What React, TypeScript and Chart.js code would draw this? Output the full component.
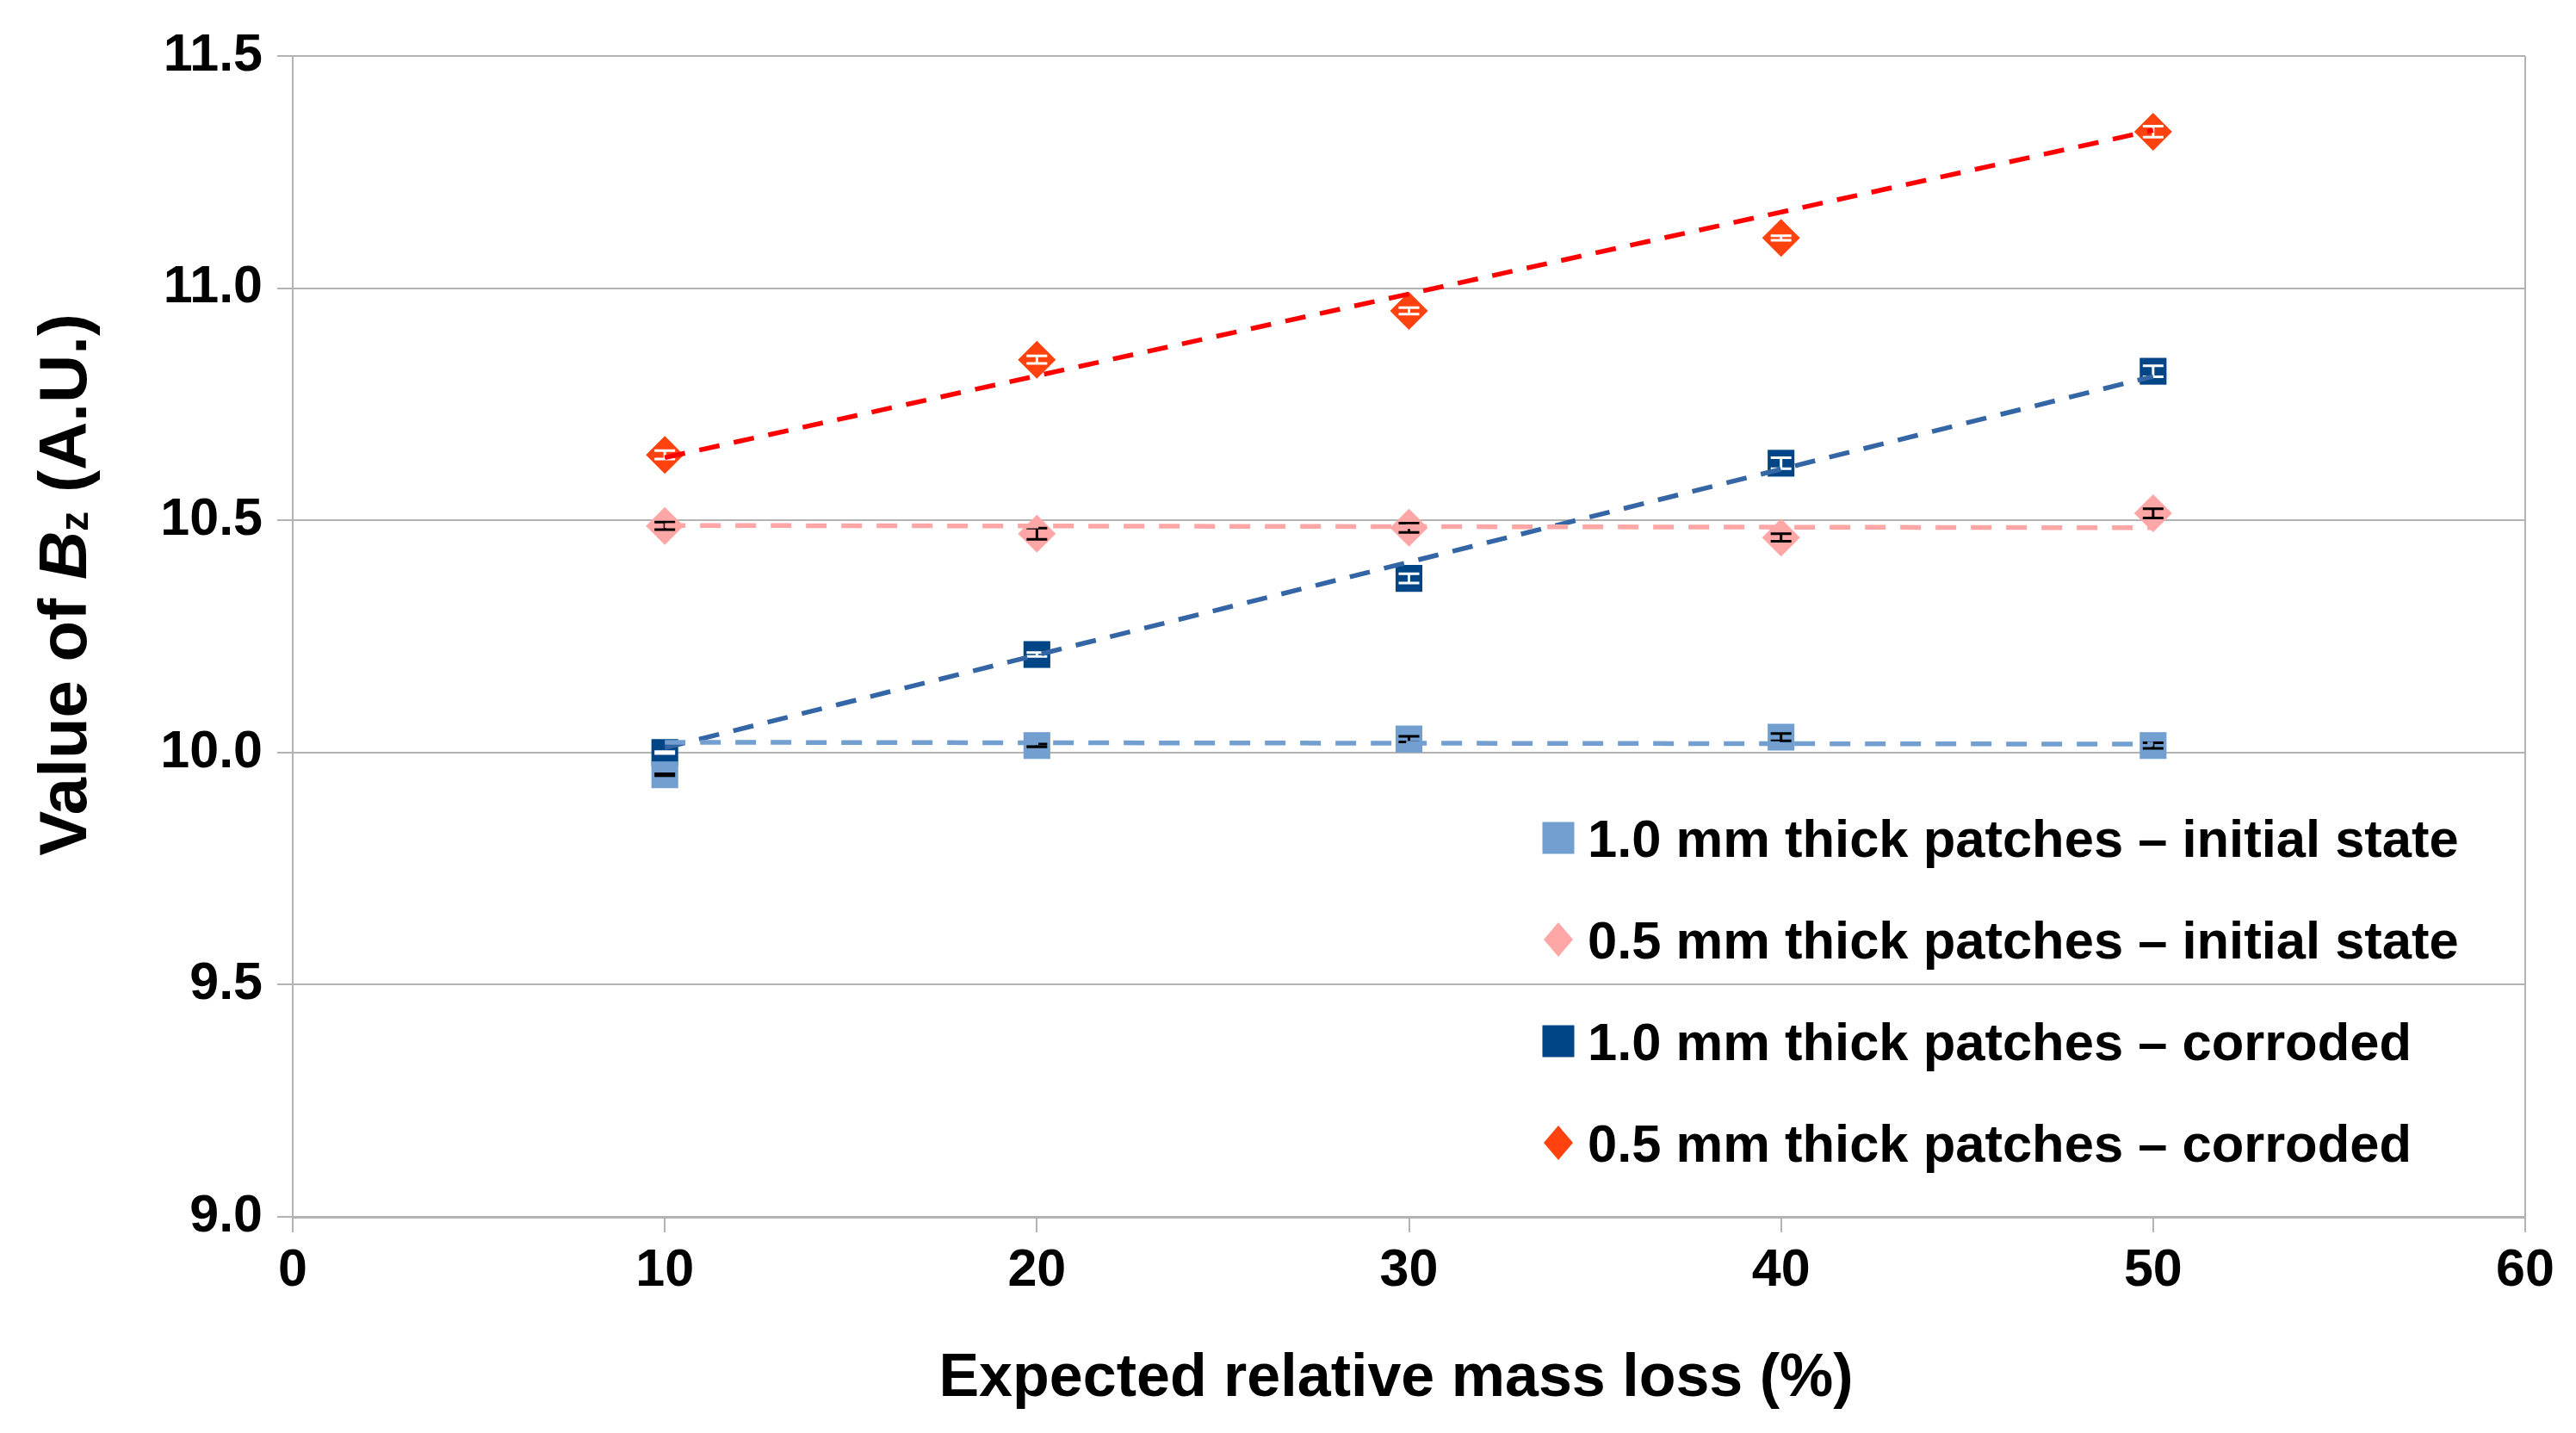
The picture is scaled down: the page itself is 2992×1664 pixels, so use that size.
import React, { useEffect, useRef } from 'react';
import { Chart, registerables } from 'chart.js';

Chart.register(...registerables);

// ---- data ----
const xValues = [10, 20, 30, 40, 50];
const seriesLabels = [
  '1.0 mm thick patches – initial state',
  '0.5 mm thick patches – initial state',
  '1.0 mm thick patches – corroded',
  '0.5 mm thick patches – corroded',
];
const thick10Initial = [9.952, 10.015, 10.029, 10.033, 10.015];
const thick05Initial = [10.488, 10.471, 10.484, 10.463, 10.515];
const thick10Corroded = [10.0, 10.211, 10.375, 10.623, 10.821];
const thick05Corroded = [10.641, 10.846, 10.951, 11.108, 11.337];

const err10Initial = [0.002, 0.003, 0.006, 0.008, 0.006];
const err05Initial = [0.008, 0.012, 0.01, 0.008, 0.01];
const err10Corroded = [0.002, 0.004, 0.01, 0.012, 0.012];
const err05Corroded = [0.009, 0.008, 0.007, 0.005, 0.012];

const trendX = [10, 50];
const trend10Initial = [10.022, 10.018];
const trend05Initial = [10.489, 10.484];
const trend10Corroded = [10.01, 10.81];
const trend05Corroded = [10.635, 11.34];

const xTicks = [0, 10, 20, 30, 40, 50, 60];
const yTicks = [9.0, 9.5, 10.0, 10.5, 11.0, 11.5];

const markerColors = ['#729fcf', '#ffa6a6', '#004586', '#ff420e'];
const trendColors = ['#729fcf', '#ffa6a6', '#3465a4', '#ff0000'];
const errColors = ['#000000', '#000000', '#ffffff', '#ffffff'];
const markerStyles = ['rect', 'rectRot', 'rect', 'rectRot'];

const FONT = '"Liberation Sans", Arial, sans-serif';
const GRID = '#b3b3b3';

const seriesValues = [thick10Initial, thick05Initial, thick10Corroded, thick05Corroded];
const seriesErrors = [err10Initial, err05Initial, err10Corroded, err05Corroded];
const trendValues = [trend10Initial, trend05Initial, trend10Corroded, trend05Corroded];

const errorBarPlugin = {
  id: 'errorBars',
  afterDatasetDraw(chart: any, args: any) {
    const i = args.index;
    if (i > 3) return;
    const ctx = chart.ctx;
    const xs = chart.scales.x;
    const ys = chart.scales.y;
    ctx.save();
    ctx.strokeStyle = errColors[i];
    ctx.lineWidth = 3;
    const vals = seriesValues[i];
    const errs = seriesErrors[i];
    const half = 12;
    for (let k = 0; k < xValues.length; k++) {
      const px = xs.getPixelForValue(xValues[k]);
      const top = ys.getPixelForValue(vals[k] + errs[k]);
      const bot = ys.getPixelForValue(vals[k] - errs[k]);
      ctx.beginPath();
      ctx.moveTo(px, top);
      ctx.lineTo(px, bot);
      ctx.moveTo(px - half, top);
      ctx.lineTo(px + half, top);
      ctx.moveTo(px - half, bot);
      ctx.lineTo(px + half, bot);
      ctx.stroke();
    }
    ctx.restore();
  },
};

const decorPlugin = {
  id: 'decor',
  afterDraw(chart: any) {
    const ctx = chart.ctx;
    const area = chart.chartArea;
    ctx.save();
    // x-axis title
    ctx.fillStyle = '#000';
    ctx.font = `bold 70px ${FONT}`;
    ctx.textAlign = 'center';
    ctx.textBaseline = 'alphabetic';
    ctx.fillText('Expected relative mass loss (%)', (area.left + area.right) / 2 - 15, 1621);

    // y-axis title (rotated, with italic B and subscript z)
    const parts = [
      { t: 'Value of ', f: `bold 78px ${FONT}`, dy: 0 },
      { t: 'B', f: `italic bold 78px ${FONT}`, dy: 0 },
      { t: 'z', f: `bold 46px ${FONT}`, dy: 2 },
      { t: ' (A.U.)', f: `bold 78px ${FONT}`, dy: 0 },
    ];
    let total = 0;
    const widths = parts.map((p) => {
      ctx.font = p.f;
      const w = ctx.measureText(p.t).width;
      total += w;
      return w;
    });
    ctx.translate(100, 679);
    ctx.rotate(-Math.PI / 2);
    ctx.textAlign = 'left';
    let cx = -total / 2;
    parts.forEach((p, idx) => {
      ctx.font = p.f;
      ctx.fillText(p.t, cx, p.dy);
      cx += widths[idx];
    });
    ctx.restore();

    // legend
    ctx.save();
    const rowY = [973, 1091, 1209, 1327];
    const mx = 1810;
    const tx = 1844;
    ctx.font = `bold 61.5px ${FONT}`;
    ctx.textAlign = 'left';
    ctx.textBaseline = 'alphabetic';
    for (let i = 0; i < 4; i++) {
      const y = rowY[i];
      ctx.fillStyle = markerColors[i];
      if (markerStyles[i] === 'rect') {
        ctx.fillRect(mx - 18.5, y - 18.5, 37, 37);
      } else {
        ctx.beginPath();
        ctx.moveTo(mx, y - 20);
        ctx.lineTo(mx + 17, y);
        ctx.lineTo(mx, y + 20);
        ctx.lineTo(mx - 17, y);
        ctx.closePath();
        ctx.fill();
      }
      ctx.fillStyle = '#000';
      ctx.fillText(seriesLabels[i], tx, y + 22);
    }
    ctx.restore();
  },
};

export default function App() {
  const canvasRef = useRef<HTMLCanvasElement | null>(null);

  useEffect(() => {
    document.body.style.margin = '0';
    const canvas = canvasRef.current;
    if (!canvas) return;

    const markerDatasets = seriesValues.map((vals, i) => ({
      label: seriesLabels[i],
      data: xValues.map((x, k) => ({ x, y: vals[k] })),
      showLine: false,
      pointStyle: markerStyles[i],
      pointRadius: 22,
      pointHoverRadius: 22,
      pointBackgroundColor: markerColors[i],
      pointBorderColor: markerColors[i],
      pointBorderWidth: 0,
      backgroundColor: markerColors[i],
      borderColor: markerColors[i],
      order: 0,
    }));
    const trendDatasets = trendValues.map((vals, i) => ({
      label: 'trend ' + seriesLabels[i],
      data: trendX.map((x, k) => ({ x, y: vals[k] })),
      showLine: true,
      pointRadius: 0,
      borderColor: trendColors[i],
      borderWidth: 5.5,
      borderDash: [24, 17],
      fill: false,
      order: -1,
    }));

    const chart = new Chart(canvas, {
      type: 'scatter',
      data: { datasets: [...markerDatasets, ...trendDatasets] as any },
      plugins: [errorBarPlugin, decorPlugin],
      options: {
        responsive: false,
        devicePixelRatio: 1,
        animation: false,
        events: [],
        layout: { padding: { top: 65, right: 59, bottom: 0, left: 0 } },
        plugins: {
          legend: { display: false },
          tooltip: { enabled: false },
          title: { display: false },
        },
        scales: {
          x: {
            type: 'linear',
            min: 0,
            max: 60,
            afterBuildTicks: (s: any) => {
              s.ticks = xTicks.map((v) => ({ value: v }));
            },
            afterFit: (s: any) => {
              s.height = 251;
            },
            ticks: {
              color: '#000',
              font: { family: FONT, size: 61, weight: 'bold' },
              padding: 9,
              maxRotation: 0,
              autoSkip: false,
            },
            grid: {
              color: (c: any) =>
                c.tick && (c.tick.value === 0 || c.tick.value === 60) ? GRID : 'rgba(0,0,0,0)',
              tickColor: GRID,
              lineWidth: 2,
              tickLength: 18,
              drawTicks: true,
            },
            border: { color: GRID, width: 3 },
          },
          y: {
            type: 'linear',
            min: 9,
            max: 11.5,
            afterBuildTicks: (s: any) => {
              s.ticks = yTicks.map((v) => ({ value: v }));
            },
            afterFit: (s: any) => {
              s.width = 340;
            },
            ticks: {
              color: '#000',
              font: { family: FONT, size: 61, weight: 'bold' },
              padding: 17,
              autoSkip: false,
              callback: (v: any) => Number(v).toFixed(1),
            },
            grid: {
              color: GRID,
              tickColor: GRID,
              lineWidth: 2,
              tickLength: 18,
            },
            border: { color: GRID, width: 2 },
          },
        },
      } as any,
    });

    return () => {
      chart.destroy();
    };
  }, []);

  return (
    <div style={{ width: 2992, height: 1664, background: '#fff' }}>
      <canvas ref={canvasRef} width={2992} height={1664} style={{ display: 'block', width: 2992, height: 1664 }} />
    </div>
  );
}
